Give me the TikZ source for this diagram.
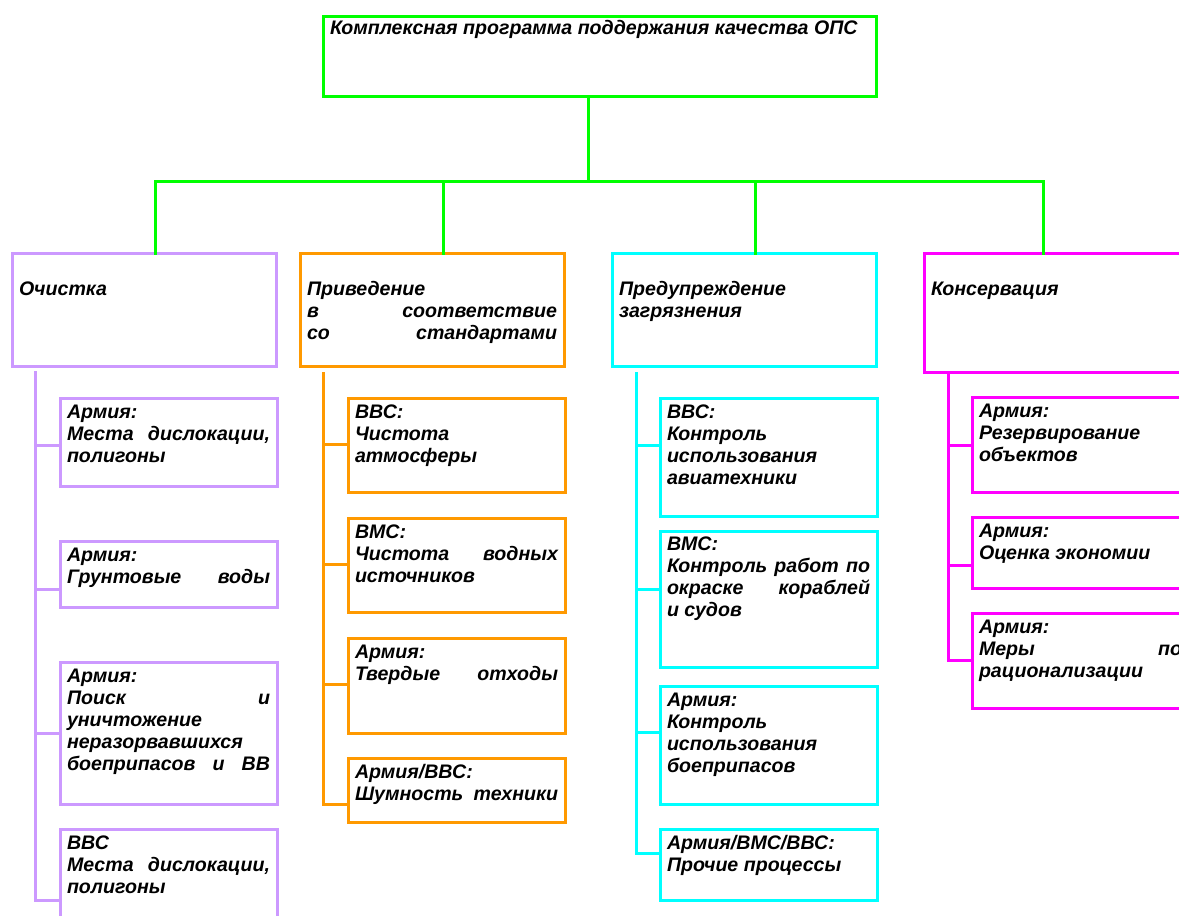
\documentclass[tikz,border=0pt]{standalone}
\usepackage{fontspec}
\setmainfont{Liberation Sans}
\newlength\px \setlength\px{0.75pt}
\definecolor{vgreen}{HTML}{00FF00}
\definecolor{lilac}{HTML}{CC99FF}
\definecolor{vorange}{HTML}{FF9900}
\definecolor{vcyan}{HTML}{00FFFF}
\definecolor{vmagenta}{HTML}{FF00FF}
\tikzset{
  box/.style={draw=#1, line width=3\px, rectangle, inner xsep=7\px, inner ysep=0pt,
    outer sep=0pt, anchor=north west, text=black,
    font=\fontsize{14.7pt}{16.5pt}\selectfont\bfseries\itshape},
  link/.style={draw=#1, line width=3\px, line cap=rect},
}
\newcommand\mybox[8]{\node[box=#6] (#1) at (#2,#3)
  {\parbox[c][#5\px][t]{\dimexpr#4\px-14\px\relax}{\vspace*{#7\px}\strut#8}};}
\newcommand\jline[1]{\makebox[\linewidth][s]{#1}}
\begin{document}
\begin{tikzpicture}[x=0.75pt,y=-0.75pt]
\useasboundingbox (0,0) rectangle (1179,915);
\fill[white] (0,0) rectangle (1179,915);
\clip (0,0) rectangle (1179,915);

% title and main boxes
\mybox{title}{323}{16}{553}{80}{vgreen}{3}{Комплексная программа поддержания качества ОПС}
\mybox{m1}{12}{253}{264}{113}{lilac}{27}{Очистка}
\mybox{m2}{300}{253}{264}{113}{vorange}{27}{Приведение\\ \jline{в соответствие}\\ \jline{со стандартами}}
\mybox{m3}{612}{253}{264}{113}{vcyan}{27}{Предупреждение\\ загрязнения}
\mybox{m4}{924}{253}{264}{119}{vmagenta}{27}{Консервация}

% column 1
\mybox{s11}{60}{398}{217}{88}{lilac}{5}{Армия:\\ \jline{Места дислокации,}\\ полигоны}
\mybox{s12}{60}{541}{217}{66}{lilac}{5}{Армия:\\ \jline{Грунтовые воды}}
\mybox{s13}{60}{662}{217}{142}{lilac}{5}{Армия:\\ \jline{Поиск и}\\ уничтожение\\ неразорвавшихся\\ \jline{боеприпасов и ВВ}}
\mybox{s14}{60}{829}{217}{120}{lilac}{5}{ВВС\\ \jline{Места дислокации,}\\ полигоны}

% column 2
\mybox{s21}{348}{398}{217}{94}{vorange}{5}{ВВС:\\ Чистота\\ атмосферы}
\mybox{s22}{348}{518}{217}{94}{vorange}{5}{ВМС:\\ \jline{Чистота водных}\\ источников}
\mybox{s23}{348}{638}{217}{95}{vorange}{5}{Армия:\\ \jline{Твердые отходы}}
\mybox{s24}{348}{758}{217}{64}{vorange}{5}{Армия/ВВС:\\ \jline{Шумность техники}}

% column 3
\mybox{s31}{660}{398}{217}{118}{vcyan}{5}{ВВС:\\ Контроль\\ использования\\ авиатехники}
\mybox{s32}{660}{531}{217}{136}{vcyan}{4}{ВМС:\\ \jline{Контроль работ по}\\ \jline{окраске кораблей}\\ и судов}
\mybox{s33}{660}{686}{217}{118}{vcyan}{5}{Армия:\\ Контроль\\ использования\\ боеприпасов}
\mybox{s34}{660}{829}{217}{71}{vcyan}{5}{Армия/ВМС/ВВС:\\ Прочие процессы}

% column 4
\mybox{s41}{972}{397}{217}{95}{vmagenta}{5}{Армия:\\ Резервирование\\ объектов}
\mybox{s42}{972}{517}{217}{71}{vmagenta}{5}{Армия:\\ Оценка экономии}
\mybox{s43}{972}{613}{217}{95}{vmagenta}{5}{Армия:\\ \jline{Меры по}\\ рационализации}

% green bus
\coordinate (b0) at (588,181);
\coordinate (b1) at (155,181);
\coordinate (b2) at (443,181);
\coordinate (b3) at (755,181);
\coordinate (b4) at (1043,181);
\draw[link=vgreen] (b0 |- title.south) -- (b0);
\draw[link=vgreen] (b1) -- (b4);
\draw[link=vgreen] (b1) -- (b1 |- m1.north);
\draw[link=vgreen] (b2) -- (b2 |- m2.north);
\draw[link=vgreen] (b3) -- (b3 |- m3.north);
\draw[link=vgreen] (b4) -- (b4 |- m4.north);

% column 1 trunk
\coordinate (t1) at (35,372);
\coordinate (c11) at (35,445);
\coordinate (c12) at (35,589);
\coordinate (c13) at (35,733);
\coordinate (c14) at (35,900);
\draw[link=lilac] (t1) -- (c14);
\foreach \i in {1,...,4}{\draw[link=lilac] (c1\i) -- (c1\i -| s1\i.west);}

% column 2 trunk
\coordinate (t2) at (323,373);
\coordinate (c21) at (323,444);
\coordinate (c22) at (323,564);
\coordinate (c23) at (323,684);
\coordinate (c24) at (323,804);
\draw[link=vorange] (t2) -- (c24);
\foreach \i in {1,...,4}{\draw[link=vorange] (c2\i) -- (c2\i -| s2\i.west);}

% column 3 trunk
\coordinate (t3) at (636,373);
\coordinate (c31) at (636,445);
\coordinate (c32) at (636,589);
\coordinate (c33) at (636,732);
\coordinate (c34) at (636,853);
\draw[link=vcyan] (t3) -- (c34);
\foreach \i in {1,...,4}{\draw[link=vcyan] (c3\i) -- (c3\i -| s3\i.west);}

% column 4 trunk
\coordinate (t4) at (948,373);
\coordinate (c41) at (948,445);
\coordinate (c42) at (948,565);
\coordinate (c43) at (948,660);
\draw[link=vmagenta] (t4) -- (c43);
\foreach \i in {1,...,3}{\draw[link=vmagenta] (c4\i) -- (c4\i -| s4\i.west);}
\end{tikzpicture}
\end{document}
